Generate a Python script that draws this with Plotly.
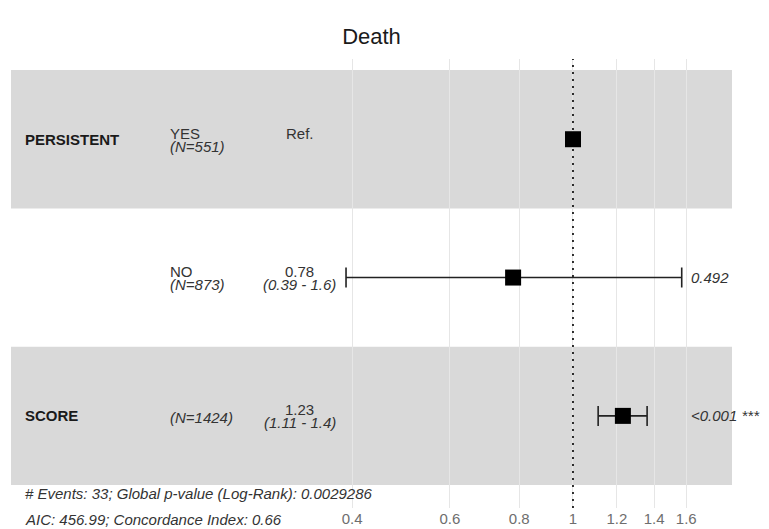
import plotly.graph_objects as go

# ---- data ----
row_var = ["PERSISTENT", "", "SCORE"]
row_level = ["YES", "NO", ""]
row_n = [551, 873, 1424]
hr = [1.0, 0.78, 1.23]
ci_low = [None, 0.39, 1.11]
ci_high = [None, 1.57, 1.36]
hr_label = ["Ref.", "0.78", "1.23"]
ci_label = ["", "(0.39 - 1.6)", "(1.11 - 1.4)"]
p_label = ["", "0.492", "<0.001 ***"]
tick_vals = [0.4, 0.6, 0.8, 1, 1.2, 1.4, 1.6]
tick_text = ["0.4", "0.6", "0.8", "1", "1.2", "1.4", "1.6"]
footer_lines = [
    "# Events: 33; Global p-value (Log-Rank): 0.0029286",
    "AIC: 456.99; Concordance Index: 0.66",
]
title_text = "Death"

FONT = "Liberation Sans, Arial, sans-serif"
n_rows = len(hr)
row_y = [n_rows - i for i in range(n_rows)]  # 3, 2, 1
y_range = [0.334, 3.58]

fig = go.Figure()

# shaded bands
shapes = []
for i, y in enumerate(row_y):
    if i % 2 == 0:
        shapes.append(dict(type="rect", xref="paper", yref="y", x0=0, x1=1,
                           y0=y - 0.5, y1=y + 0.5, fillcolor="#d9d9d9",
                           line=dict(width=0), layer="below"))

# reference dotted line at HR = 1
fig.add_trace(go.Scatter(x=[1, 1], y=y_range, mode="lines",
                         line=dict(color="black", width=1.6, dash="2px,5px"),
                         hoverinfo="skip", showlegend=False))

# CI error bars + squares
ci_x, ci_y, ci_plus, ci_minus = [], [], [], []
for i in range(n_rows):
    if ci_low[i] is not None:
        ci_x.append(hr[i]); ci_y.append(row_y[i])
        ci_plus.append(ci_high[i] - hr[i]); ci_minus.append(hr[i] - ci_low[i])

fig.add_trace(go.Scatter(
    x=ci_x, y=ci_y, mode="markers",
    marker=dict(symbol="square", size=1, color="rgba(0,0,0,0)"),
    error_x=dict(type="data", symmetric=False, array=ci_plus, arrayminus=ci_minus,
                 color="#222222", thickness=1.6, width=10),
    hoverinfo="skip", showlegend=False))

fig.add_trace(go.Scatter(
    x=hr, y=row_y, mode="markers",
    marker=dict(symbol="square", size=16, color="black", line=dict(width=0)),
    showlegend=False))

annotations = []
fs = 15
col_var, col_level, col_hr, col_p = 0.0167, 0.2177, 0.4008, 0.9404
up, down = 6, -7
for i, y in enumerate(row_y):
    if row_var[i]:
        annotations.append(dict(x=col_var, xref="paper", y=y, yref="y", text="<b>%s</b>" % row_var[i],
                                showarrow=False, xanchor="left", yanchor="middle",
                                font=dict(family=FONT, size=fs, color="#1a1a1a")))
    if row_level[i]:
        annotations.append(dict(x=col_level, xref="paper", y=y, yref="y", text=row_level[i],
                                showarrow=False, xanchor="left", yanchor="middle", yshift=up,
                                font=dict(family=FONT, size=fs, color="#333333")))
        n_shift = down
    else:
        n_shift = -2
    annotations.append(dict(x=col_level, xref="paper", y=y, yref="y", text="<i>(N=%d)</i>" % row_n[i],
                            showarrow=False, xanchor="left", yanchor="middle", yshift=n_shift,
                            font=dict(family=FONT, size=fs, color="#333333")))
    annotations.append(dict(x=col_hr, xref="paper", y=y, yref="y", text=hr_label[i],
                            showarrow=False, xanchor="center", yanchor="middle", yshift=up,
                            font=dict(family=FONT, size=fs, color="#333333")))
    if ci_label[i]:
        annotations.append(dict(x=col_hr, xref="paper", y=y, yref="y", text="<i>%s</i>" % ci_label[i],
                                showarrow=False, xanchor="center", yanchor="middle", yshift=down,
                                font=dict(family=FONT, size=fs, color="#333333")))
    if p_label[i]:
        annotations.append(dict(x=col_p, xref="paper", y=y, yref="y", text="<i>%s</i>" % p_label[i],
                                showarrow=False, xanchor="left", yanchor="middle",
                                font=dict(family=FONT, size=fs, color="#333333")))

footer_y = [0.0334, -0.0245]
for line, fy in zip(footer_lines, footer_y):
    annotations.append(dict(x=col_var, xref="paper", y=fy, yref="paper", text="<i>%s</i>" % line,
                            showarrow=False, xanchor="left", yanchor="middle",
                            font=dict(family=FONT, size=fs, color="#333333")))

fig.update_layout(
    width=761, height=521,
    margin=dict(l=3, r=37, t=51, b=21),
    paper_bgcolor="white", plot_bgcolor="white",
    title=dict(text=title_text, x=0.5, xref="paper", y=1 - 28 / 521, yref="container",
               xanchor="center", yanchor="middle",
               font=dict(family=FONT, size=22, color="#1a1a1a")),
    xaxis=dict(type="log", range=[-1.0126, 0.2865], tickvals=tick_vals, ticktext=tick_text,
               showgrid=True, gridcolor="#e6e6e6", gridwidth=1, zeroline=False,
               showline=False, ticks="", ticklen=0,
               automargin=False,
               tickfont=dict(family=FONT, size=fs, color="#6e6e6e")),
    yaxis=dict(range=y_range, showgrid=False, zeroline=False, showticklabels=False,
               showline=False, ticks="", automargin=False),
    shapes=shapes, annotations=annotations, showlegend=False,
)

fig.write_html("out.html")
